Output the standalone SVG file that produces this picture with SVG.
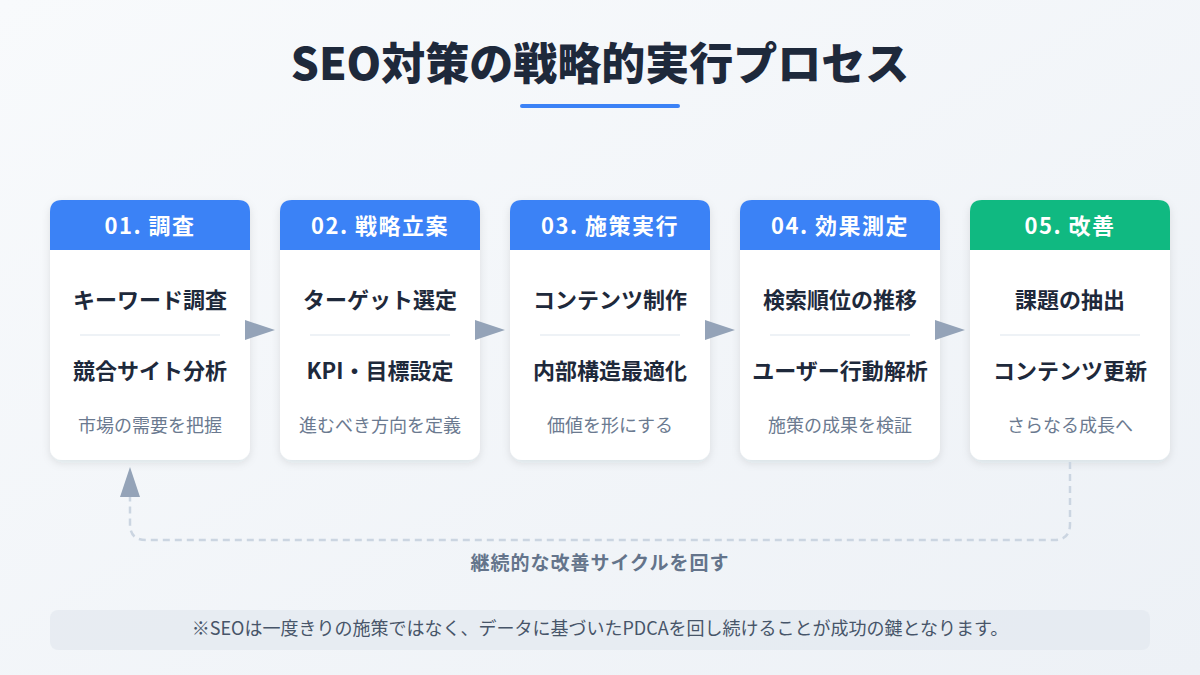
<svg xmlns="http://www.w3.org/2000/svg" width="1200" height="675" viewBox="0 0 1200 675">
  <defs>
    <linearGradient id="bg" x1="0" y1="0" x2="1" y2="1">
      <stop offset="0" stop-color="#f8fafc"/>
      <stop offset="1" stop-color="#edf1f6"/>
    </linearGradient>
    <filter id="shadow" x="-20%" y="-20%" width="140%" height="140%">
      <feDropShadow dx="0" dy="3" stdDeviation="4" flood-color="#1e293b" flood-opacity="0.10"/>
    </filter>
    <style>
      .card { fill: #ffffff; filter: url(#shadow); }
      .hd-blue { fill: #3b82f6; }
      .hd-green { fill: #10b981; }
      .hd-text { font-family: "Noto Sans CJK JP", "Noto Sans", sans-serif; font-size: 22px; font-weight: 700; fill: #ffffff; text-anchor: middle; letter-spacing: 1.5px; }
      .item { font-family: "Noto Sans CJK JP", "Noto Sans", sans-serif; font-size: 22px; font-weight: 700; fill: #1e293b; text-anchor: middle; }
      .cap { font-family: "Noto Sans CJK JP", "Noto Sans", sans-serif; font-size: 18px; font-weight: 400; fill: #6b7a90; text-anchor: middle; }
      .divider { stroke: #eef2f6; stroke-width: 2; }
      .arrow { fill: #94a3b8; }
      .loop { fill: none; stroke: #cbd5e1; stroke-width: 2.5; stroke-dasharray: 7 5; }
    </style>
  </defs>

  <rect x="0" y="0" width="1200" height="675" fill="url(#bg)"/>

  <g id="title">
    <text x="600" y="80" font-family="'Noto Sans CJK JP', 'Noto Sans', sans-serif" font-size="44" font-weight="900" fill="#1e293b" text-anchor="middle">SEO対策の戦略的実行プロセス</text>
    <rect x="520" y="104" width="160" height="4" rx="2" fill="#3b82f6"/>
  </g>

  <g id="node1">
    <rect class="card" x="50" y="200" width="200" height="260" rx="12"/>
    <path class="hd-blue" d="M50,250 V212 Q50,200 62,200 H238 Q250,200 250,212 V250 Z"/>
    <text class="hd-text" x="150" y="234">01. 調査</text>
    <text class="item" x="150" y="308">キーワード調査</text>
    <line class="divider" x1="80" y1="335" x2="220" y2="335"/>
    <text class="item" x="150" y="379">競合サイト分析</text>
    <text class="cap" x="150" y="432">市場の需要を把握</text>
  </g>

  <g id="node2">
    <rect class="card" x="280" y="200" width="200" height="260" rx="12"/>
    <path class="hd-blue" d="M280,250 V212 Q280,200 292,200 H468 Q480,200 480,212 V250 Z"/>
    <text class="hd-text" x="380" y="234">02. 戦略立案</text>
    <text class="item" x="380" y="308">ターゲット選定</text>
    <line class="divider" x1="310" y1="335" x2="450" y2="335"/>
    <text class="item" x="380" y="379">KPI・目標設定</text>
    <text class="cap" x="380" y="432">進むべき方向を定義</text>
  </g>

  <g id="node3">
    <rect class="card" x="510" y="200" width="200" height="260" rx="12"/>
    <path class="hd-blue" d="M510,250 V212 Q510,200 522,200 H698 Q710,200 710,212 V250 Z"/>
    <text class="hd-text" x="610" y="234">03. 施策実行</text>
    <text class="item" x="610" y="308">コンテンツ制作</text>
    <line class="divider" x1="540" y1="335" x2="680" y2="335"/>
    <text class="item" x="610" y="379">内部構造最適化</text>
    <text class="cap" x="610" y="432">価値を形にする</text>
  </g>

  <g id="node4">
    <rect class="card" x="740" y="200" width="200" height="260" rx="12"/>
    <path class="hd-blue" d="M740,250 V212 Q740,200 752,200 H928 Q940,200 940,212 V250 Z"/>
    <text class="hd-text" x="840" y="234">04. 効果測定</text>
    <text class="item" x="840" y="308">検索順位の推移</text>
    <line class="divider" x1="770" y1="335" x2="910" y2="335"/>
    <text class="item" x="840" y="379">ユーザー行動解析</text>
    <text class="cap" x="840" y="432">施策の成果を検証</text>
  </g>

  <g id="node5">
    <rect class="card" x="970" y="200" width="200" height="260" rx="12"/>
    <path class="hd-green" d="M970,250 V212 Q970,200 982,200 H1158 Q1170,200 1170,212 V250 Z"/>
    <text class="hd-text" x="1070" y="234">05. 改善</text>
    <text class="item" x="1070" y="308">課題の抽出</text>
    <line class="divider" x1="1000" y1="335" x2="1140" y2="335"/>
    <text class="item" x="1070" y="379">コンテンツ更新</text>
    <text class="cap" x="1070" y="432">さらなる成長へ</text>
  </g>

  <g id="connectors">
    <polygon class="arrow" points="245,320 275,330 245,340"/>
    <polygon class="arrow" points="475,320 505,330 475,340"/>
    <polygon class="arrow" points="705,320 735,330 705,340"/>
    <polygon class="arrow" points="935,320 965,330 935,340"/>
    <path class="loop" d="M1070,462 V524 Q1070,540 1054,540 H146 Q130,540 130,524 V497"/>
    <polygon class="arrow" points="130,467 120,497 140,497"/>
    <text x="600" y="570" font-family="'Noto Sans CJK JP', 'Noto Sans', sans-serif" font-size="19" font-weight="700" fill="#64748b" text-anchor="middle" letter-spacing="1">継続的な改善サイクルを回す</text>
  </g>

  <g id="footer">
    <rect x="50" y="610" width="1100" height="40" rx="8" fill="#e2e8f0" fill-opacity="0.7"/>
    <text x="600" y="635" font-family="'Noto Sans CJK JP', 'Noto Sans', sans-serif" font-size="18" font-weight="400" fill="#475569" text-anchor="middle">※SEOは一度きりの施策ではなく、データに基づいたPDCAを回し続けることが成功の鍵となります。</text>
  </g>
</svg>
